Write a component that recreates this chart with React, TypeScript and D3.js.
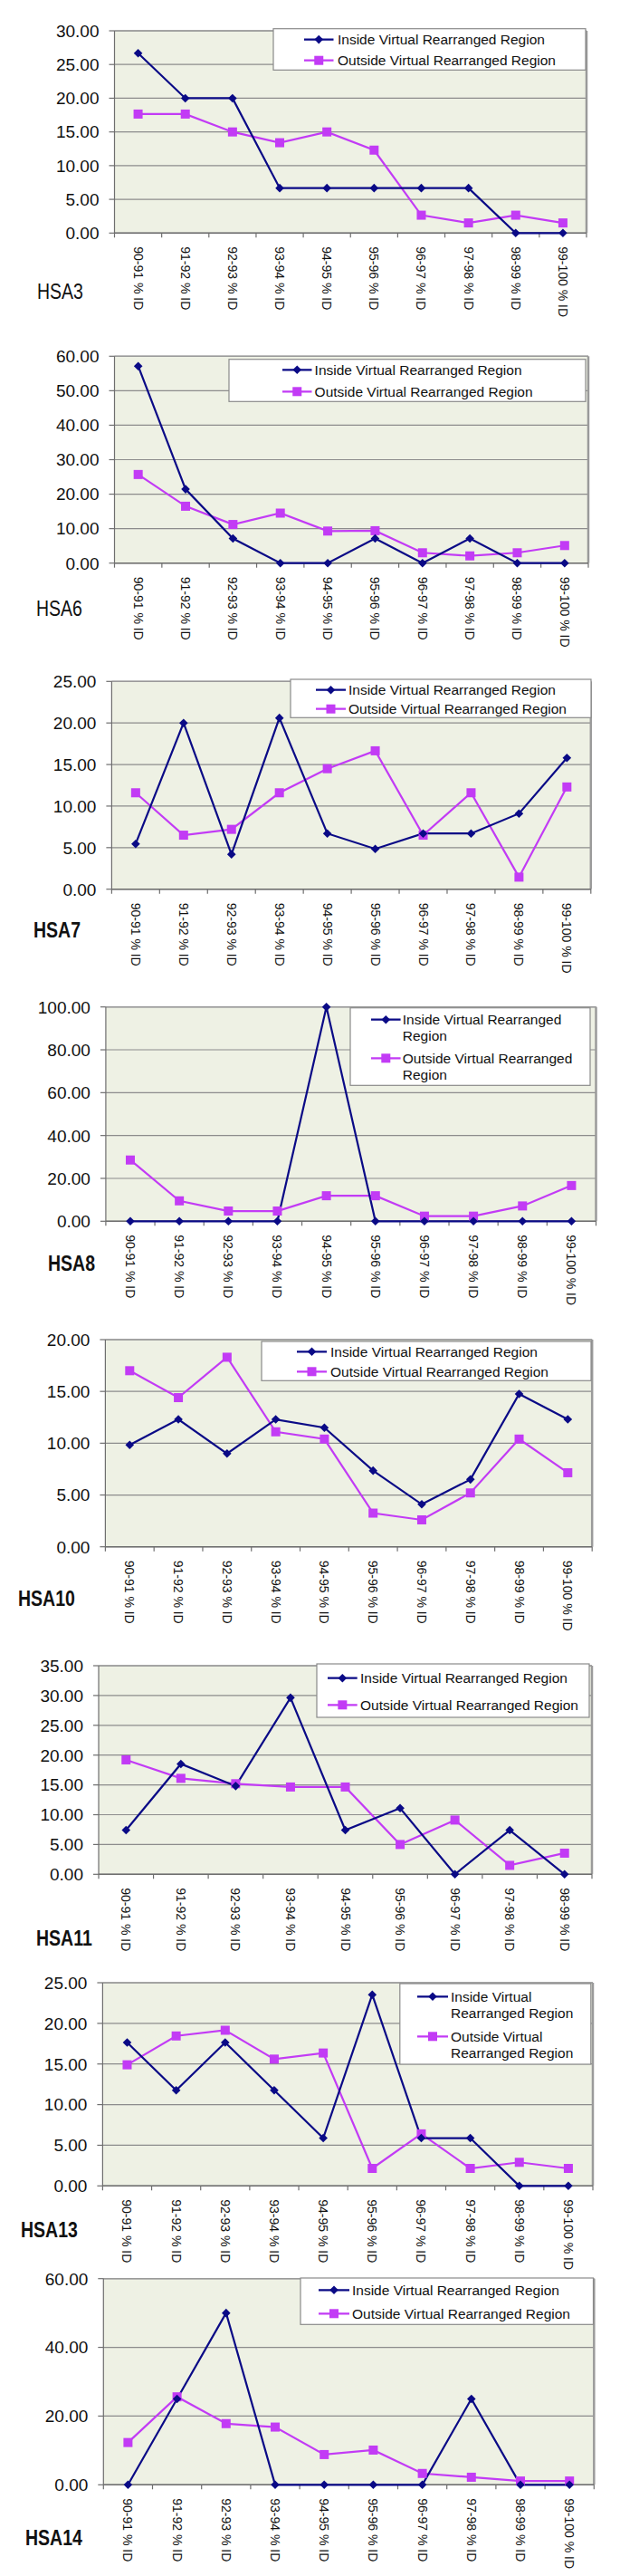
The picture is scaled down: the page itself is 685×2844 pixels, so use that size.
import React from "react";
import * as d3 from "d3";

// ---------- DATA ----------
const categories = [
  "90-91 % ID", "91-92 % ID", "92-93 % ID", "93-94 % ID", "94-95 % ID",
  "95-96 % ID", "96-97 % ID", "97-98 % ID", "98-99 % ID", "99-100 % ID",
];
const categoriesHSA11 = [
  "90-91 % ID", "91-92 % ID", "92-93 % ID", "93-94 % ID", "94-95 % ID",
  "95-96 % ID", "96-97 % ID", "97-98 % ID", "98-99 % ID",
];
const seriesInside = "Inside Virtual Rearranged Region";
const seriesOutside = "Outside Virtual Rearranged Region";

const hsa3Inside = [26.67, 20, 20, 6.67, 6.67, 6.67, 6.67, 6.67, 0, 0];
const hsa3Outside = [17.65, 17.65, 15.0, 13.4, 15.0, 12.3, 2.65, 1.5, 2.65, 1.5];
const hsa3Ticks = [0, 5, 10, 15, 20, 25, 30];

const hsa6Inside = [57.14, 21.43, 7.14, 0, 0, 7.14, 0, 7.14, 0, 0];
const hsa6Outside = [25.7, 16.5, 11.2, 14.5, 9.3, 9.4, 3.0, 2.1, 3.0, 5.1];
const hsa6Ticks = [0, 10, 20, 30, 40, 50, 60];

const hsa7Inside = [5.45, 20.0, 4.2, 20.6, 6.7, 4.85, 6.7, 6.7, 9.1, 15.8];
const hsa7Outside = [11.6, 6.5, 7.2, 11.6, 14.5, 16.65, 6.5, 11.6, 1.45, 12.3];
const hsa7Ticks = [0, 5, 10, 15, 20, 25];

const hsa8Inside = [0, 0, 0, 0, 100, 0, 0, 0, 0, 0];
const hsa8Outside = [28.57, 9.52, 4.76, 4.76, 11.9, 11.9, 2.38, 2.38, 7.14, 16.67];
const hsa8Ticks = [0, 20, 40, 60, 80, 100];

const hsa10Inside = [9.84, 12.3, 9.0, 12.3, 11.5, 7.35, 4.1, 6.5, 14.75, 12.3];
const hsa10Outside = [17.0, 14.4, 18.3, 11.1, 10.4, 3.25, 2.6, 5.2, 10.4, 7.15];
const hsa10Ticks = [0, 5, 10, 15, 20];

const hsa11Inside = [7.41, 18.52, 14.81, 29.63, 7.41, 11.11, 0, 7.41, 0];
const hsa11Outside = [19.2, 16.1, 15.2, 14.65, 14.65, 5.0, 9.1, 1.5, 3.55];
const hsa11Ticks = [0, 5, 10, 15, 20, 25, 30, 35];

const hsa13Inside = [17.65, 11.76, 17.65, 11.76, 5.88, 23.53, 5.88, 5.88, 0, 0];
const hsa13Outside = [14.9, 18.45, 19.15, 15.6, 16.35, 2.15, 6.4, 2.15, 2.9, 2.15];
const hsa13Ticks = [0, 5, 10, 15, 20, 25];

const hsa14Inside = [0, 25, 50, 0, 0, 0, 0, 25, 0, 0];
const hsa14Outside = [12.3, 25.6, 17.8, 16.8, 8.8, 10.1, 3.3, 2.2, 1.1, 1.1];
const hsa14Ticks = [0, 20, 40, 60];

// ---------- STYLE / LAYOUT ----------
const FONT = "'Liberation Sans', Arial, Helvetica, sans-serif";
const INSIDE_COLOR = "#0A0A86";
const OUTSIDE_COLOR = "#C23BF5";
const PLOT_BG = "#EEF1E4";
const GRID = "#8C8C8C";

type Panel = {
  name: string;
  bold: boolean;
  cats: string[];
  inside: number[];
  outside: number[];
  ticks: number[];
  top: number; bottom: number; left: number; right: number;
  lg: { x0: number; x1: number; y0: number; y1: number; m0: number; m1: number; tx: number };
  rows: { y: number[]; lines: string[] }[];
  label: { x: number; y: number };
};

const panels: Panel[] = [
  {
    name: "HSA3", bold: false, cats: categories, inside: hsa3Inside, outside: hsa3Outside, ticks: hsa3Ticks,
    top: 34, bottom: 257.3, left: 126.5, right: 648,
    lg: { x0: 302, x1: 647, y0: 31.7, y1: 77.3, m0: 336, m1: 368.5, tx: 373 },
    rows: [{ y: [43.6], lines: [seriesInside] }, { y: [66.7], lines: [seriesOutside] }],
    label: { x: 41, y: 330 },
  },
  {
    name: "HSA6", bold: false, cats: categories, inside: hsa6Inside, outside: hsa6Outside, ticks: hsa6Ticks,
    top: 393.3, bottom: 621.7, left: 126.5, right: 650,
    lg: { x0: 253, x1: 647, y0: 396.7, y1: 443.3, m0: 312, m1: 344.5, tx: 347.6 },
    rows: [{ y: [408.3], lines: [seriesInside] }, { y: [432.3], lines: [seriesOutside] }],
    label: { x: 40, y: 680 },
  },
  {
    name: "HSA7", bold: true, cats: categories, inside: hsa7Inside, outside: hsa7Outside, ticks: hsa7Ticks,
    top: 752.3, bottom: 981.7, left: 123.4, right: 652.8,
    lg: { x0: 321, x1: 653, y0: 750, y1: 792.3, m0: 349, m1: 382, tx: 385 },
    rows: [{ y: [761.7], lines: [seriesInside] }, { y: [782.7], lines: [seriesOutside] }],
    label: { x: 37, y: 1035 },
  },
  {
    name: "HSA8", bold: true, cats: categories, inside: hsa8Inside, outside: hsa8Outside, ticks: hsa8Ticks,
    top: 1111.7, bottom: 1348.3, left: 116.9, right: 658.5,
    lg: { x0: 387, x1: 652, y0: 1112.7, y1: 1198.3, m0: 410, m1: 442.6, tx: 444.8 },
    rows: [
      { y: [1125.7, 1143.7], lines: ["Inside Virtual Rearranged", "Region"] },
      { y: [1168.3, 1186.7], lines: ["Outside Virtual Rearranged", "Region"] },
    ],
    label: { x: 53, y: 1403 },
  },
  {
    name: "HSA10", bold: true, cats: categories, inside: hsa10Inside, outside: hsa10Outside, ticks: hsa10Ticks,
    top: 1479, bottom: 1707.7, left: 116.4, right: 654.2,
    lg: { x0: 289, x1: 653, y0: 1481, y1: 1524.3, m0: 328, m1: 361, tx: 365 },
    rows: [{ y: [1492.3], lines: [seriesInside] }, { y: [1514.3], lines: [seriesOutside] }],
    label: { x: 20, y: 1773 },
  },
  {
    name: "HSA11", bold: true, cats: categoriesHSA11, inside: hsa11Inside, outside: hsa11Outside, ticks: hsa11Ticks,
    top: 1839, bottom: 2069.3, left: 109, right: 654,
    lg: { x0: 350, x1: 651, y0: 1837, y1: 1896, m0: 362, m1: 394.7, tx: 398 },
    rows: [{ y: [1852.7], lines: [seriesInside] }, { y: [1882.3], lines: [seriesOutside] }],
    label: { x: 40, y: 2148 },
  },
  {
    name: "HSA13", bold: true, cats: categories, inside: hsa13Inside, outside: hsa13Outside, ticks: hsa13Ticks,
    top: 2189, bottom: 2413.3, left: 113.4, right: 655,
    lg: { x0: 441.8, x1: 652.8, y0: 2190, y1: 2279, m0: 461, m1: 495, tx: 498 },
    rows: [
      { y: [2204.3, 2222.7], lines: ["Inside Virtual", "Rearranged Region"] },
      { y: [2248.3, 2266.7], lines: ["Outside Virtual", "Rearranged Region"] },
    ],
    label: { x: 23, y: 2470 },
  },
  {
    name: "HSA14", bold: true, cats: categories, inside: hsa14Inside, outside: hsa14Outside, ticks: hsa14Ticks,
    top: 2515.7, bottom: 2743.3, left: 114.3, right: 656.3,
    lg: { x0: 332, x1: 655.5, y0: 2515, y1: 2566.3, m0: 352, m1: 386, tx: 389 },
    rows: [{ y: [2528.3], lines: [seriesInside] }, { y: [2554.3], lines: [seriesOutside] }],
    label: { x: 28, y: 2810 },
  },
];

const fmt = d3.format(".2f");

function diamond(cx: number, cy: number, r: number) {
  return `M${cx},${cy - r}L${cx + r},${cy}L${cx},${cy + r}L${cx - r},${cy}Z`;
}

function ChartPanel({ p }: { p: Panel }) {
  const x = d3.scaleBand<string>().domain(p.cats).range([p.left, p.right]).padding(0);
  const yMax = d3.max(p.ticks) as number;
  const y = d3.scaleLinear().domain([0, yMax]).range([p.bottom, p.top]);
  const cx = (c: string) => (x(c) as number) + x.bandwidth() / 2;
  const line = d3.line<number>().x((_, i) => cx(p.cats[i])).y((d) => y(d));
  const bounds = p.cats.map((c) => x(c) as number).concat([p.right]);

  return (
    <g>
      {/* plot area */}
      <rect x={p.left} y={p.top} width={p.right - p.left} height={p.bottom - p.top} fill={PLOT_BG} />
      {p.ticks.map((t) => (
        <line key={"g" + t} x1={p.left} x2={p.right} y1={y(t)} y2={y(t)} stroke={GRID} strokeWidth={1.2} />
      ))}
      <line x1={p.right} x2={p.right} y1={p.top} y2={p.bottom} stroke="#9A9A9A" strokeWidth={2.5} />
      <line x1={p.left} x2={p.right} y1={p.top} y2={p.top} stroke="#9A9A9A" strokeWidth={1.5} />
      {/* y axis */}
      <line x1={p.left} x2={p.left} y1={p.top} y2={p.bottom} stroke="#6E6E6E" strokeWidth={1.2} />
      {p.ticks.map((t) => (
        <g key={"t" + t}>
          <line x1={p.left - 6} x2={p.left} y1={y(t)} y2={y(t)} stroke="#6E6E6E" strokeWidth={1.2} />
          <text x={p.left - 17} y={y(t)} dy="0.36em" textAnchor="end" fontSize={19} fontFamily={FONT} fill="#111">
            {fmt(t)}
          </text>
        </g>
      ))}
      {/* x axis */}
      <line x1={p.left} x2={p.right} y1={p.bottom} y2={p.bottom} stroke="#6E6E6E" strokeWidth={1.5} />
      {bounds.map((b, i) => (
        <line key={"xt" + i} x1={b} x2={b} y1={p.bottom} y2={p.bottom + 5} stroke="#6E6E6E" strokeWidth={1.2} />
      ))}
      {p.cats.map((c) => (
        <text
          key={"xl" + c}
          transform={`translate(${cx(c)},${p.bottom + 15}) rotate(90)`}
          dominantBaseline="central"
          textAnchor="start"
          fontSize={14}
          fontFamily={FONT}
          fill="#111"
        >
          {c}
        </text>
      ))}
      {/* series */}
      <path d={line(p.outside) || ""} fill="none" stroke={OUTSIDE_COLOR} strokeWidth={2.2} />
      <path d={line(p.inside) || ""} fill="none" stroke={INSIDE_COLOR} strokeWidth={2.2} />
      {p.outside.map((v, i) => (
        <rect key={"om" + i} x={cx(p.cats[i]) - 5} y={y(v) - 5} width={10} height={10} fill={OUTSIDE_COLOR} />
      ))}
      {p.inside.map((v, i) => (
        <path key={"im" + i} d={diamond(cx(p.cats[i]), y(v), 4.8)} fill={INSIDE_COLOR} />
      ))}
      {/* legend */}
      <rect x={p.lg.x0} y={p.lg.y0} width={p.lg.x1 - p.lg.x0} height={p.lg.y1 - p.lg.y0} fill="#fff" stroke="#8A8A8A" strokeWidth={1.2} />
      {p.rows.map((r, ri) => {
        const my = r.y[0];
        const mx = (p.lg.m0 + p.lg.m1) / 2;
        const color = ri === 0 ? INSIDE_COLOR : OUTSIDE_COLOR;
        return (
          <g key={"lg" + ri}>
            <line x1={p.lg.m0} x2={p.lg.m1} y1={my} y2={my} stroke={color} strokeWidth={2.2} />
            {ri === 0 ? (
              <path d={diamond(mx, my, 4.8)} fill={color} />
            ) : (
              <rect x={mx - 5} y={my - 5} width={10} height={10} fill={color} />
            )}
            {r.lines.map((ln, li) => (
              <text key={li} x={p.lg.tx} y={r.y[li]} dy="0.36em" fontSize={15.5} fontFamily={FONT} fill="#111">
                {ln}
              </text>
            ))}
          </g>
        );
      })}
      {/* panel label */}
      <text
        transform={`translate(${p.label.x},${p.label.y}) scale(1,1.2)`}
        fontSize={19.5}
        fontWeight={p.bold ? "bold" : "normal"}
        fontFamily={FONT}
        fill="#111"
      >
        {p.name}
      </text>
    </g>
  );
}

export default function App() {
  return (
    <svg
      width={685}
      height={2844}
      viewBox="0 0 685 2844"
      style={{ position: "absolute", left: 0, top: 0, background: "#fff" }}
    >
      <rect x={0} y={0} width={685} height={2844} fill="#fff" />
      {panels.map((p) => (
        <ChartPanel key={p.name} p={p} />
      ))}
    </svg>
  );
}
